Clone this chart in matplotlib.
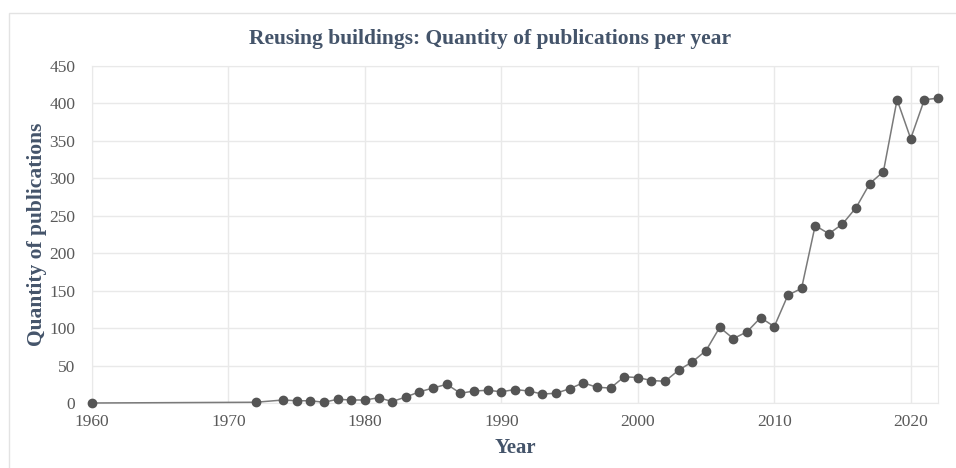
import matplotlib.pyplot as plt
from matplotlib.patches import Rectangle

years = [1960, 1972, 1974, 1975, 1976, 1977, 1978, 1979, 1980, 1981,
         1982, 1983, 1984, 1985, 1986, 1987, 1988, 1989, 1990, 1991,
         1992, 1993, 1994, 1995, 1996, 1997, 1998, 1999, 2000, 2001,
         2002, 2003, 2004, 2005, 2006, 2007, 2008, 2009, 2010, 2011,
         2012, 2013, 2014, 2015, 2016, 2017, 2018, 2019, 2020, 2021,
         2022]
counts = [0, 1, 4, 3, 3, 1, 5, 4, 4, 7,
          2, 8, 15, 20, 25, 13, 16, 17, 15, 18,
          16, 12, 13, 19, 27, 21, 20, 35, 34, 30,
          29, 44, 55, 70, 101, 86, 95, 114, 102, 144,
          153, 237, 226, 239, 261, 293, 309, 405, 353, 405,
          407]

x_ticks = [1960, 1970, 1980, 1990, 2000, 2010, 2020]
y_ticks = [0, 50, 100, 150, 200, 250, 300, 350, 400, 450]

title_color = '#44546a'
tick_color = '#595959'
grid_color = '#e9e9e9'

plt.rcParams['font.family'] = ['Liberation Serif', 'DejaVu Serif']

fig = plt.figure(figsize=(9.56, 4.68), dpi=100)
# outer chart frame
fig.patches.append(Rectangle((9 / 956, -0.1), 1.2, 1 - 13 / 468 + 0.1,
                             transform=fig.transFigure, fill=False,
                             edgecolor='#e3e3e3', linewidth=1))

ax = fig.add_axes([92 / 956, 1 - 403 / 468, (938 - 92) / 956, (403 - 66) / 468])
ax.plot(years, counts, color='#7a7a7a', linewidth=1.1, marker='o',
        markersize=6, markerfacecolor='#555555', markeredgecolor='#555555',
        zorder=3, clip_on=False)

ax.set_xlim(1960, 2022)
ax.set_ylim(0, 450)
ax.set_xticks(x_ticks)
ax.set_yticks(y_ticks)
ax.grid(True, color=grid_color, linewidth=1)
ax.set_axisbelow(True)
for s in ax.spines.values():
    s.set_color(grid_color)
ax.tick_params(length=0, labelsize=12.5, colors=tick_color)
ax.tick_params(axis='y', pad=12)
ax.tick_params(axis='x', pad=8)

# title is centred on the whole chart box, not the plot area
fig.text(490 / 956, 1 - 39 / 468, 'Reusing buildings: Quantity of publications per year',
         fontsize=15.5, fontweight='bold', color=title_color, ha='center', va='center')
ax.set_xlabel('Year', fontsize=15, fontweight='bold', color=title_color, labelpad=6)
ax.set_ylabel('Quantity of publications', fontsize=15.5, fontweight='bold',
              color=title_color, labelpad=2)

fig.savefig('out.png', dpi=100)
